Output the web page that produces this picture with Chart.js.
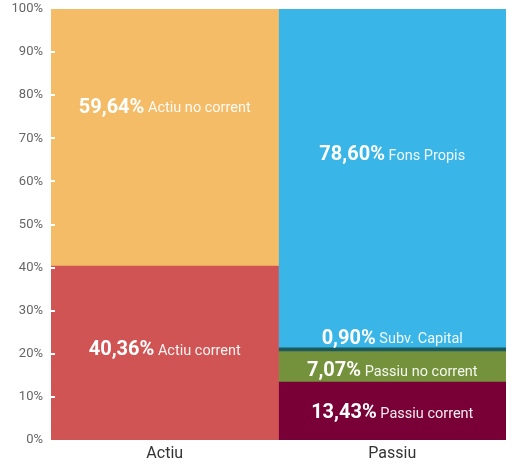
<!DOCTYPE html>
<html>
<head>
<meta charset="utf-8">
<script src="https://cdn.jsdelivr.net/npm/chart.js@4.4.1/dist/chart.umd.min.js"></script>
<style>
  html, body { margin: 0; padding: 0; background: #fff; }
  #wrap { width: 515px; height: 464px; }
</style>
</head>
<body>
<div id="wrap"><canvas id="balance"></canvas></div>
<script>
const categories = ["Actiu", "Passiu"];
const yTicks = [0, 10, 20, 30, 40, 50, 60, 70, 80, 90, 100];

// one segment per dataset, bottom to top
const segNames = ["Actiu corrent", "Actiu no corrent", "Passiu corrent", "Passiu no corrent", "Subv. Capital", "Fons Propis"];
const segCategory = ["Actiu", "Actiu", "Passiu", "Passiu", "Passiu", "Passiu"];
const segValues = [40.36, 59.64, 13.43, 7.07, 0.90, 78.60];

const segColors = ["#d15454", "#f4bc66", "#790036", "#74923b", "#1c5a5e", "#39b5e7"];
const labelDy = [-3, -30, 2, 4, -11, -23];

const fmt = v => v.toFixed(2).replace(".", ",") + "%";

const segLabels = {
  id: "segLabels",
  afterDatasetsDraw(chart) {
    const c = chart.ctx;
    c.save();
    c.textBaseline = "middle";
    chart.data.datasets.forEach((ds, i) => {
      const meta = chart.getDatasetMeta(i);
      const idx = categories.indexOf(segCategory[i]);
      const bar = meta.data[idx];
      if (!bar) return;
      const pct = fmt(segValues[i]);
      const name = " " + segNames[i];
      const boldF = "bold 20px Roboto";
      const regF = "14.5px Roboto";
      c.font = boldF;
      const w1 = c.measureText(pct).width;
      c.font = regF;
      const w2 = c.measureText(name).width;
      let x = bar.x - (w1 + w2) / 2;
      const y = (bar.y + bar.base) / 2 + labelDy[i];
      c.textAlign = "left";
      c.fillStyle = "#ffffff";
      c.font = boldF;
      c.fillText(pct, x, y);
      c.fillStyle = "rgba(255,255,255,0.93)";
      c.font = regF;
      c.fillText(name, x + w1, y + 1);
    });
    // short white tick marks on the inner left edge
    const ys = chart.scales.y;
    const left = chart.chartArea.left;
    c.strokeStyle = "#ffffff";
    c.lineWidth = 2;
    yTicks.forEach(t => {
      if (t === 0 || t === 100) return;
      const py = Math.round(ys.getPixelForValue(t));
      c.beginPath();
      c.moveTo(left - 1, py);
      c.lineTo(left + 4, py);
      c.stroke();
    });
    c.restore();
  }
};

new Chart(document.getElementById("balance"), {
  type: "bar",
  data: {
    labels: categories,
    datasets: segNames.map((n, i) => ({
      label: n,
      data: categories.map(cat => (cat === segCategory[i] ? segValues[i] : null)),
      backgroundColor: segColors[i],
      borderWidth: 0,
      barPercentage: 1,
      categoryPercentage: 1,
      stack: "s",
    })),
  },
  options: {
    responsive: true,
    maintainAspectRatio: false,
    animation: false,
    layout: { padding: { top: 9, right: 9, left: 0, bottom: 0 } },
    plugins: { legend: { display: false }, tooltip: { enabled: false } },
    scales: {
      x: {
        stacked: true,
        grid: { display: false, drawTicks: false },
        border: { display: false },
        ticks: { color: "#333", font: { family: "Roboto", size: 16 }, padding: 4 },
        afterFit: s => { s.height = 24; },
      },
      y: {
        stacked: true,
        min: 0,
        max: 100,
        afterBuildTicks: s => { s.ticks = yTicks.map(v => ({ value: v })); },
        grid: { display: false, drawTicks: false },
        border: { display: false },
        ticks: {
          color: "#666",
          font: { family: "Roboto", size: 13 },
          padding: 8,
          callback: v => v + "%",
        },
        afterFit: s => { s.width = 51; s.paddingTop = 0; s.paddingBottom = 0; },
      },
    },
  },
  plugins: [segLabels],
});
</script>
</body>
</html>
